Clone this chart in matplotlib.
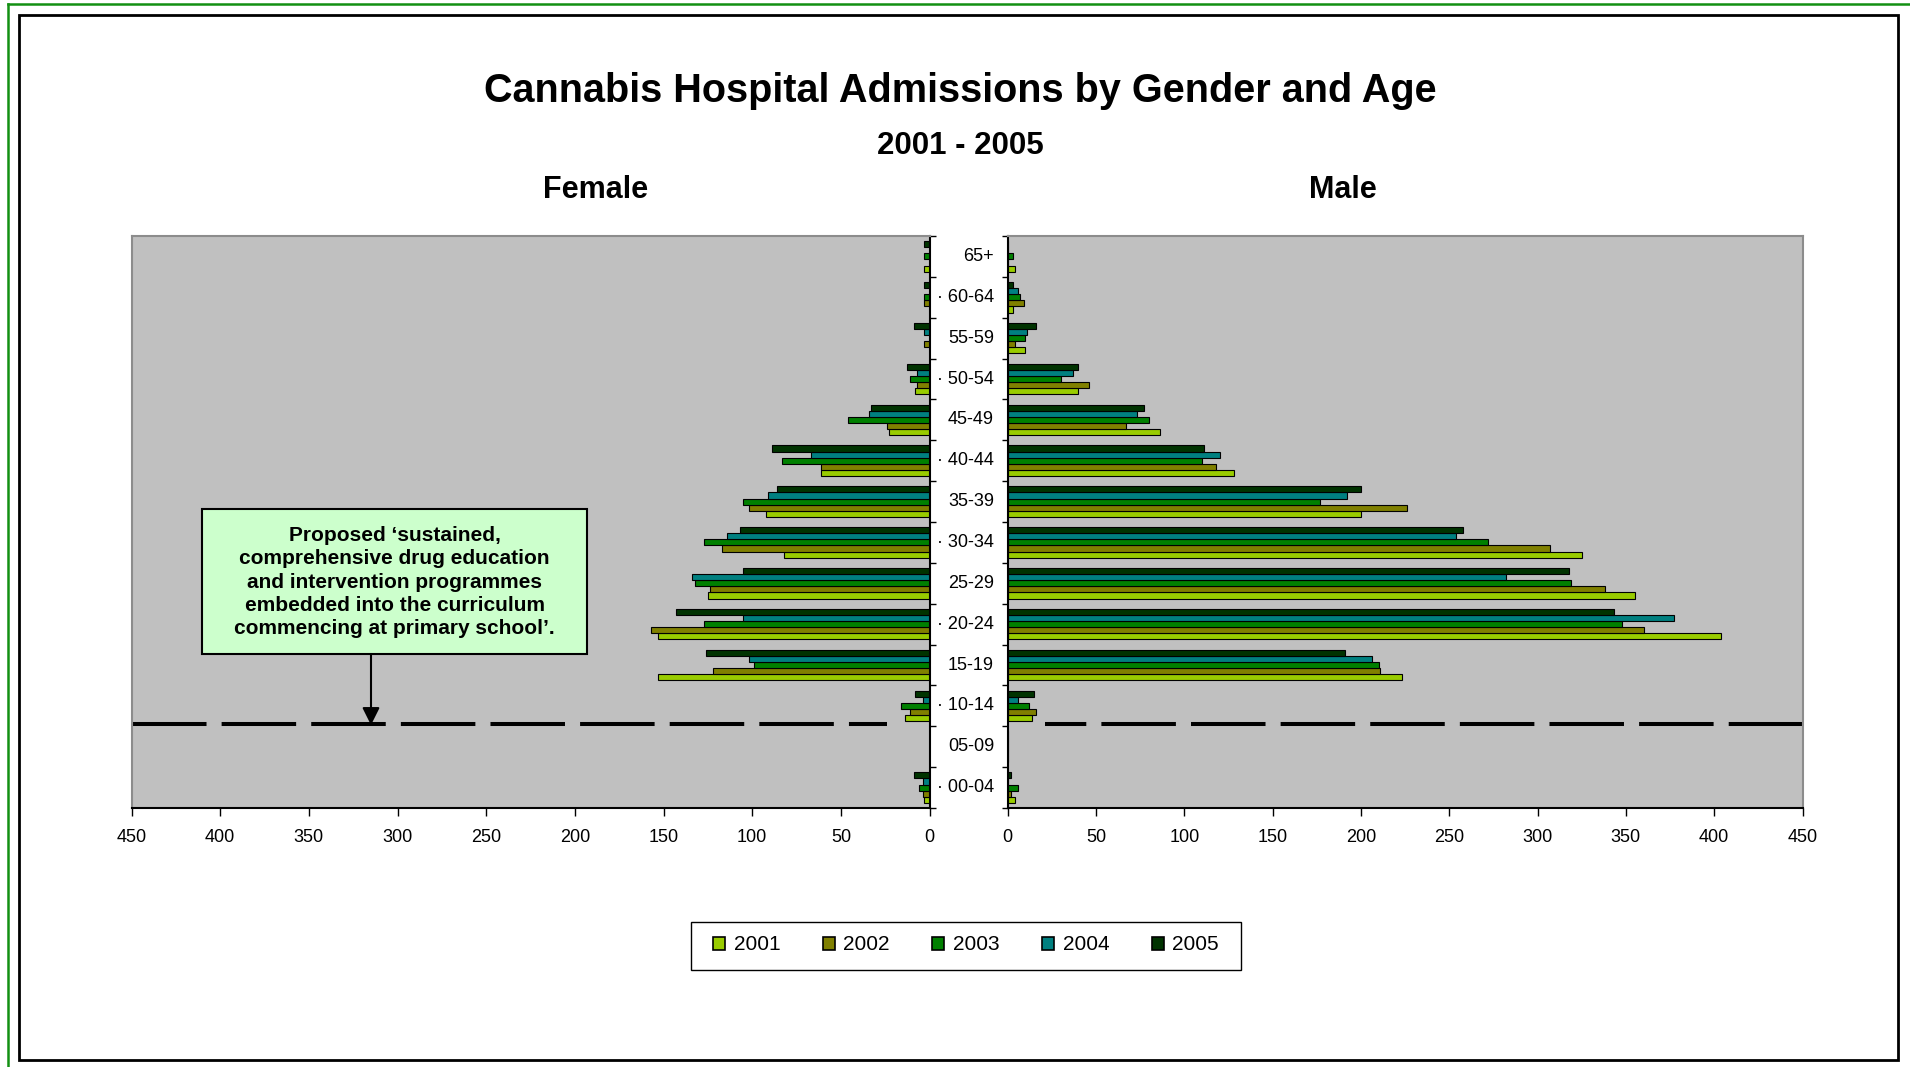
import matplotlib
matplotlib.use("Agg")
import matplotlib.pyplot as plt
import matplotlib.transforms as mtransforms
from matplotlib.patches import Rectangle, FancyArrowPatch
from matplotlib.lines import Line2D
import numpy as np

plt.rcParams["font.family"] = ["Liberation Sans", "DejaVu Sans"]

W, H = 1910, 1067

# age bands, bottom to top
AGES = ["00-04", "05-09", "10-14", "15-19", "20-24", "25-29", "30-34",
        "35-39", "40-44", "45-49", "50-54", "55-59", "60-64", "65+"]
YEARS = ["2001", "2002", "2003", "2004", "2005"]
COLORS = ["#99CC00", "#808000", "#008000", "#008080", "#003300"]

FEMALE_2001 = [3, 0, 14, 153, 153, 125, 82, 92, 61, 23, 8, 0, 0, 3]
FEMALE_2002 = [4, 0, 11, 122, 157, 124, 117, 102, 61, 24, 7, 3, 3, 0]
FEMALE_2003 = [6, 0, 16, 99, 127, 132, 127, 105, 83, 46, 11, 0, 3, 3]
FEMALE_2004 = [4, 0, 4, 102, 105, 134, 114, 91, 67, 34, 7, 3, 0, 0]
FEMALE_2005 = [9, 0, 8, 126, 143, 105, 107, 86, 89, 33, 13, 9, 3, 3]

MALE_2001 = [4, 0, 14, 223, 404, 355, 325, 200, 128, 86, 40, 10, 3, 4]
MALE_2002 = [2, 0, 16, 211, 360, 338, 307, 226, 118, 67, 46, 4, 9, 0]
MALE_2003 = [6, 0, 12, 210, 348, 319, 272, 177, 110, 80, 30, 10, 7, 3]
MALE_2004 = [0, 0, 6, 206, 377, 282, 254, 192, 120, 73, 37, 11, 6, 0]
MALE_2005 = [2, 0, 15, 191, 343, 318, 258, 200, 111, 77, 40, 16, 3, 0]

FEMALE = [FEMALE_2001, FEMALE_2002, FEMALE_2003, FEMALE_2004, FEMALE_2005]
MALE = [MALE_2001, MALE_2002, MALE_2003, MALE_2004, MALE_2005]

NOTE = ("Proposed \u2018sustained,\ncomprehensive drug education\n"
        "and intervention programmes\nembedded into the curriculum\n"
        "commencing at primary school\u2019.")


def fx(x):
    return x / W


def fy(y):
    return 1 - y / H


fig = plt.figure(figsize=(W / 100, H / 100), dpi=100)
fig.patch.set_facecolor("white")

# page frame: green outer rule, black inner box
fig.add_artist(Line2D([fx(8), fx(8)], [fy(4), 0], color="#139013", lw=1.8))
fig.add_artist(Line2D([fx(8), 1], [fy(4), fy(4)], color="#139013", lw=1.8))
fig.add_artist(Rectangle((fx(19), fy(1060)), fx(1898) - fx(19), fy(15) - fy(1060),
                         transform=fig.transFigure, fill=False,
                         edgecolor="black", lw=2.0))

top, bottom = 236, 808
ax_f = fig.add_axes([fx(131.5), fy(bottom), (929.6 - 131.5) / W, (bottom - top) / H])
ax_m = fig.add_axes([fx(1007.7), fy(bottom), (1802.5 - 1007.7) / W, (bottom - top) / H])

y = np.arange(len(AGES))
bh = 0.15
for k in range(len(YEARS)):
    off = (k - 2) * bh
    ax_f.barh(y + off, FEMALE[k], height=bh, color=COLORS[k],
              edgecolor="black", linewidth=0.8)
    ax_m.barh(y + off, MALE[k], height=bh, color=COLORS[k],
              edgecolor="black", linewidth=0.8)

bounds = np.arange(-0.5, len(AGES), 1.0)
for ax in (ax_f, ax_m):
    ax.set_facecolor("#C0C0C0")
    ax.set_ylim(-0.5, len(AGES) - 0.5)
    ax.set_xticks(range(0, 451, 50))
    ax.set_yticks(bounds)
    ax.set_yticklabels([])
    ax.tick_params(axis="x", direction="out", length=6, width=1,
                   labelsize=13, pad=9)
    ax.tick_params(axis="y", direction="out", length=4.5, width=1)
    for s in ax.spines.values():
        s.set_color("#8c8c8c")
        s.set_linewidth(1.5)
    ax.spines["bottom"].set_color("black")

ax_f.set_xlim(450, 0)
ax_m.set_xlim(0, 450)
ax_f.yaxis.tick_right()
ax_f.spines["right"].set_color("black")
ax_m.spines["left"].set_color("black")

# age labels in the gap between the two panels
trans = mtransforms.blended_transform_factory(fig.transFigure, ax_m.transData)
for i, lab in enumerate(AGES):
    txt = ("\u00b7 " if i % 2 == 0 else "") + lab
    ax_m.text(fx(994), i, txt, transform=trans, ha="right", va="center",
              fontsize=13, clip_on=False)

# dashed cut-off line just above the 05-09 band
ax_f.plot([450, 24], [1.55, 1.55], color="black", lw=2.9,
          linestyle=(0, (18.5, 3.75)), dash_capstyle="butt", clip_on=False)
ax_m.plot([21, 450], [1.55, 1.55], color="black", lw=2.9,
          linestyle=(8.25, (18.5, 3.75)), dash_capstyle="butt", clip_on=False)

# titles
fig.text(fx(960), fy(90.5), "Cannabis Hospital Admissions by Gender and Age",
         ha="center", va="center", fontsize=28.5, fontweight="bold")
fig.text(fx(960), fy(146.5), "2001 - 2005", ha="center", va="center",
         fontsize=22.5, fontweight="bold")
fig.text(fx(596), fy(190.5), "Female", ha="center", va="center",
         fontsize=22, fontweight="bold")
fig.text(fx(1343), fy(190.5), "Male", ha="center", va="center",
         fontsize=22, fontweight="bold")

# note box with arrow down to the dashed line
fig.add_artist(Rectangle((fx(202), fy(654)), (587 - 202) / W, (654 - 509) / H,
                         transform=fig.transFigure, facecolor="#CCFFCC",
                         edgecolor="black", lw=1.5, zorder=5))
fig.text(fx(394.5), fy(582), NOTE, ha="center", va="center", fontsize=15,
         fontweight="bold", linespacing=1.27, zorder=6)
fig.add_artist(FancyArrowPatch((fx(371), fy(654)), (fx(371), fy(725)),
                               transform=fig.transFigure,
                               arrowstyle="-|>,head_length=0.7,head_width=0.35",
                               mutation_scale=15, color="black", lw=1.5,
                               shrinkA=0, shrinkB=0, zorder=6))

# legend in a plain box
fig.add_artist(Rectangle((fx(691), fy(970)), (1241 - 691) / W, (970 - 922) / H,
                         transform=fig.transFigure, facecolor="white",
                         edgecolor="black", lw=1.0, zorder=4))
handles = [Rectangle((0, 0), 1, 1, facecolor=c, edgecolor="black", lw=1.2)
           for c in COLORS]
fig.legend(handles, YEARS, loc="center", bbox_to_anchor=(fx(966), fy(945)),
           ncol=5, frameon=False, fontsize=15, handlelength=0.58,
           handleheight=0.58, handletextpad=0.41, columnspacing=2.04)

fig.savefig("out.png", dpi=100)
